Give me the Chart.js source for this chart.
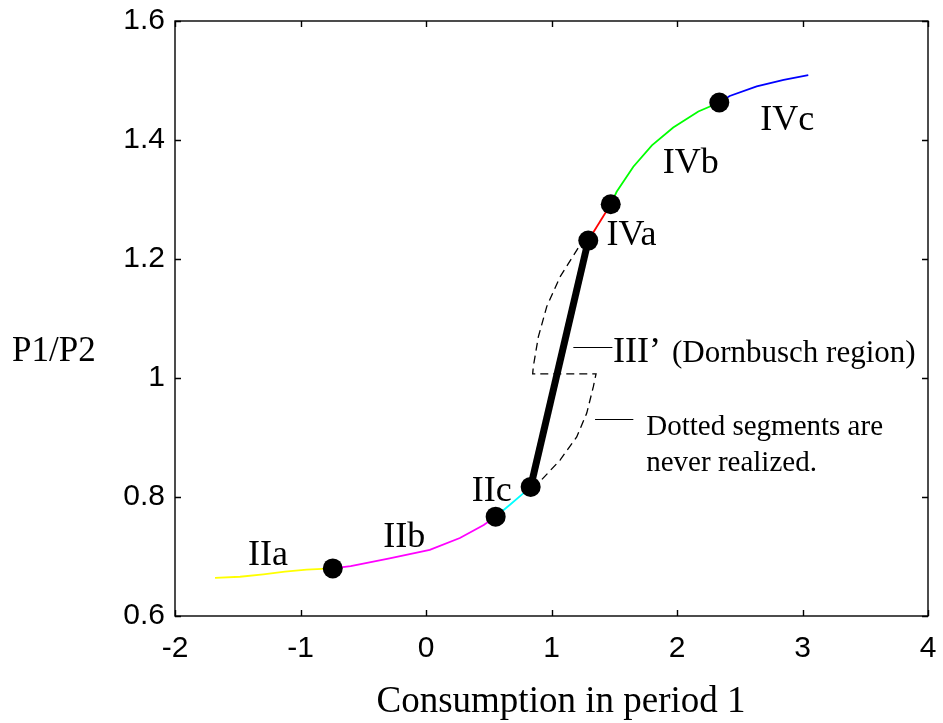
<!DOCTYPE html>
<html>
<head>
<meta charset="utf-8">
<script src="https://cdn.jsdelivr.net/npm/chart.js@4.4.1/dist/chart.umd.min.js"></script>
<style>
  html, body { margin: 0; padding: 0; background: #ffffff; }
  #wrap { width: 943px; height: 723px; }
</style>
</head>
<body>
<div id="wrap"><canvas id="c" width="943" height="723"></canvas></div>
<script>
// Relative price P1/P2 against consumption in period 1, split by regime.
const iiaX = [-1.681, -1.482, -1.296, -1.124, -0.951, -0.743];
const iiaY = [0.664, 0.666, 0.670, 0.6745, 0.678, 0.680];

const iibX = [-0.743, -0.600, -0.290, 0.030, 0.270, 0.460, 0.555];
const iibY = [0.680, 0.684, 0.697, 0.711, 0.731, 0.753, 0.767];

const iicX = [0.555, 0.669, 0.775, 0.834];
const iicY = [0.767, 0.787, 0.806, 0.817];

// Dornbusch region (III'), a jump between IIc and IVa
const iiiX = [0.834, 1.293];
const iiiY = [0.817, 1.231];

const ivaX = [1.293, 1.472];
const ivaY = [1.231, 1.292];

const ivbX = [1.472, 1.519, 1.652, 1.800, 1.970, 2.170, 2.337];
const ivbY = [1.292, 1.313, 1.355, 1.391, 1.421, 1.448, 1.463];

const ivcX = [2.337, 2.420, 2.635, 2.850, 3.046];
const ivcY = [1.463, 1.474, 1.490, 1.501, 1.509];

// Branches that are never realized
const dashX = [1.293, 1.227, 1.068, 0.962, 0.895, 0.855, 0.850, 1.355, 1.333, 1.281, 1.201, 1.068, 0.908, 0.834];
const dashY = [1.231, 1.2235, 1.170, 1.120, 1.069, 1.019, 1.007, 1.007, 0.985, 0.941, 0.901, 0.862, 0.826, 0.817];

// Regime boundaries
const dotX = [-0.743, 0.555, 0.834, 1.293, 1.472, 2.337];
const dotY = [0.680, 0.767, 0.817, 1.231, 1.292, 1.463];

const xTicks = [-2, -1, 0, 1, 2, 3, 4];
const xTickLabels = ['-2', '-1', '0', '1', '2', '3', '4'];
const yTicks = [0.6, 0.8, 1.0, 1.2, 1.4, 1.6];
const yTickLabels = ['0.6', '0.8', '1', '1.2', '1.4', '1.6'];

// Region labels: text, anchor x, anchor y (left / baseline)
const regionText = ['IIa', 'IIb', 'IIc', 'IVa', 'IVb', 'IVc', 'III\u2019'];
const regionX = [-1.418, -0.340, 0.364, 1.438, 1.886, 2.664, 1.490];
const regionY = [0.685, 0.7165, 0.794, 1.224, 1.345, 1.416, 1.0269];

// Notes beside the jump
const noteText = ['(Dornbusch region)', 'Dotted segments are', 'never realized.'];
const noteSize = [31, 29, 29];
const noteX = [1.960, 1.755, 1.755];
const noteY = [1.0269, 0.9050, 0.8430];

// Leader lines: x start, x end, y
const leaderX0 = [1.174, 1.347];
const leaderX1 = [1.485, 1.652];
const leaderY = [1.0516, 0.9306];

const pts = (xs, ys) => xs.map((x, i) => ({ x: x, y: ys[i] }));

const curve = (xs, ys, color, width, order) => ({
  data: pts(xs, ys),
  showLine: true,
  borderColor: color,
  backgroundColor: color,
  borderWidth: width,
  pointRadius: 0,
  tension: 0,
  order: order
});

const SERIF = '"Liberation Serif", "Times New Roman", serif';
const SANS = '"Liberation Sans", Arial, sans-serif';

// keep the plot box at a fixed size regardless of tick label overhang
const noOverhang = (s) => {
  s.paddingTop = 0; s.paddingBottom = 0; s.paddingLeft = 0; s.paddingRight = 0;
};

const frameAndText = {
  id: 'frameAndText',
  afterDraw(chart) {
    const { ctx, chartArea: a, scales: { x, y } } = chart;
    ctx.save();
    // box and inward ticks on all four sides
    ctx.strokeStyle = '#000';
    ctx.lineWidth = 1.4;
    ctx.strokeRect(a.left, a.top, a.right - a.left, a.bottom - a.top);
    const tl = 6;
    ctx.beginPath();
    xTicks.forEach(v => {
      const px = Math.round(x.getPixelForValue(v)) + 0.5;
      ctx.moveTo(px, a.bottom); ctx.lineTo(px, a.bottom - tl);
      ctx.moveTo(px, a.top); ctx.lineTo(px, a.top + tl);
    });
    yTicks.forEach(v => {
      const py = Math.round(y.getPixelForValue(v)) + 0.5;
      ctx.moveTo(a.left, py); ctx.lineTo(a.left + tl, py);
      ctx.moveTo(a.right, py); ctx.lineTo(a.right - tl, py);
    });
    ctx.stroke();

    // leader lines
    ctx.lineWidth = 1.2;
    ctx.beginPath();
    leaderY.forEach((ly, i) => {
      const py = Math.round(y.getPixelForValue(ly)) + 0.5;
      ctx.moveTo(x.getPixelForValue(leaderX0[i]), py);
      ctx.lineTo(x.getPixelForValue(leaderX1[i]), py);
    });
    ctx.stroke();

    ctx.fillStyle = '#000';
    ctx.textBaseline = 'alphabetic';
    ctx.textAlign = 'left';
    ctx.font = '36px ' + SERIF;
    regionText.forEach((t, i) => {
      ctx.fillText(t, x.getPixelForValue(regionX[i]), y.getPixelForValue(regionY[i]));
    });
    noteText.forEach((t, i) => {
      ctx.font = noteSize[i] + 'px ' + SERIF;
      ctx.fillText(t, x.getPixelForValue(noteX[i]), y.getPixelForValue(noteY[i]));
    });

    // axis titles
    ctx.font = '35px ' + SERIF;
    ctx.fillText('P1/P2', 12, 361);
    ctx.font = '37px ' + SERIF;
    ctx.textAlign = 'center';
    ctx.fillText('Consumption in period 1', 561, 712);
    ctx.restore();
  }
};

new Chart(document.getElementById('c'), {
  type: 'scatter',
  data: {
    datasets: [
      {
        data: pts(dotX, dotY),
        pointRadius: 10,
        pointHoverRadius: 10,
        pointBackgroundColor: '#000',
        pointBorderColor: '#000',
        pointBorderWidth: 0,
        showLine: false,
        order: 0
      },
      curve(iiiX, iiiY, '#000000', 7, 1),
      curve(iiaX, iiaY, '#ffff00', 1.8, 2),
      curve(iibX, iibY, '#ff00ff', 1.8, 2),
      curve(iicX, iicY, '#00ffff', 1.8, 2),
      curve(ivaX, ivaY, '#ff0000', 1.8, 2),
      curve(ivbX, ivbY, '#00ff00', 1.8, 2),
      curve(ivcX, ivcY, '#0000ff', 1.8, 2),
      Object.assign(curve(dashX, dashY, '#000000', 1.3, 3), { borderDash: [8, 5] })
    ]
  },
  options: {
    responsive: false,
    animation: false,
    devicePixelRatio: 1,
    layout: { padding: { top: 21, right: 15, left: 0, bottom: 0 } },
    plugins: { legend: { display: false }, tooltip: { enabled: false } },
    events: [],
    scales: {
      x: {
        type: 'linear',
        min: -2,
        max: 4,
        afterFit: s => { s.height = 107; noOverhang(s); },
        afterBuildTicks: s => { s.ticks = xTicks.map(v => ({ value: v })); },
        ticks: {
          callback: (v) => xTickLabels[xTicks.indexOf(v)],
          font: { family: SANS, size: 30 },
          color: '#000',
          padding: 15,
          maxRotation: 0,
          autoSkip: false
        },
        grid: { display: false, drawTicks: false },
        border: { display: false }
      },
      y: {
        type: 'linear',
        min: 0.6,
        max: 1.6,
        afterFit: s => { s.width = 175; noOverhang(s); },
        afterBuildTicks: s => { s.ticks = yTicks.map(v => ({ value: v })); },
        ticks: {
          callback: (v) => yTickLabels[yTicks.indexOf(v)],
          font: { family: SANS, size: 30 },
          color: '#000',
          padding: 10,
          autoSkip: false
        },
        grid: { display: false, drawTicks: false },
        border: { display: false }
      }
    }
  },
  plugins: [frameAndText]
});
</script>
</body>
</html>
